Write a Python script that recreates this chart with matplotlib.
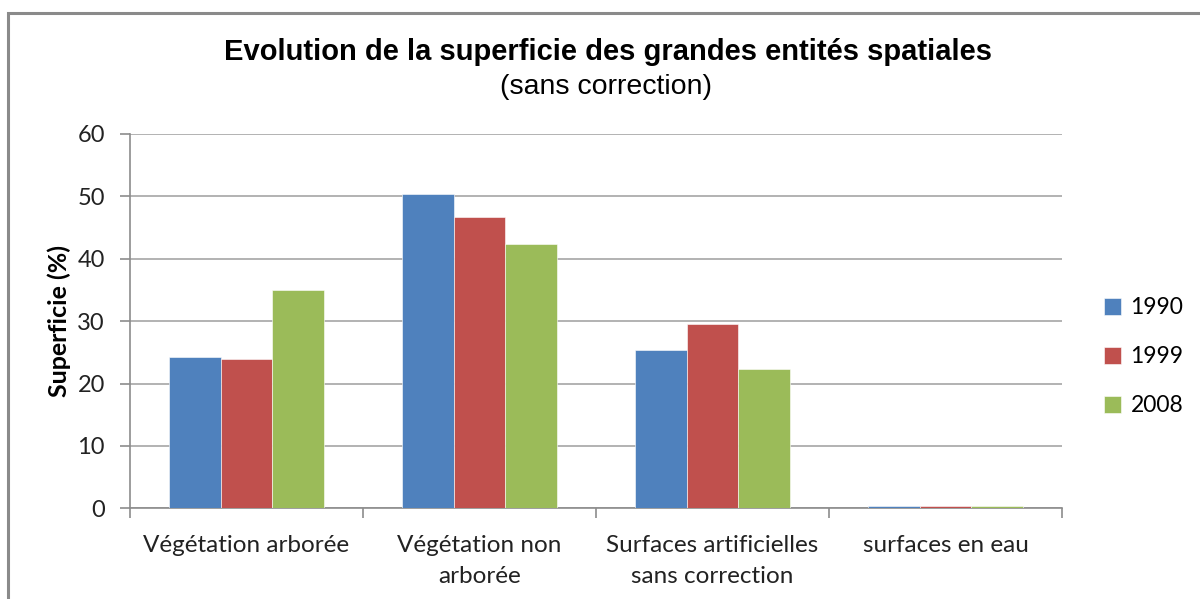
import matplotlib
matplotlib.use("Agg")
import matplotlib.pyplot as plt
from matplotlib.patches import Rectangle
import numpy as np

categories = ["Végétation arborée", "Végétation non\narborée",
              "Surfaces artificielles\nsans correction", "surfaces en eau"]
years = ["1990", "1999", "2008"]
values_1990 = [24.3, 50.4, 25.3, 0.3]
values_1999 = [23.9, 46.7, 29.5, 0.3]
values_2008 = [35.0, 42.4, 22.4, 0.3]
colors = ["#4F81BD", "#C0504D", "#9BBB59"]
y_ticks = [0, 10, 20, 30, 40, 50, 60]

series = [values_1990, values_1999, values_2008]

fig = plt.figure(figsize=(12, 5.99), dpi=100)
fig.patch.set_facecolor("white")

# outer chart frame (runs off the right and bottom edges)
fig.add_artist(Rectangle((8 / 1200, -0.05), 1.2, 1 - 13 / 599 + 0.05,
                         transform=fig.transFigure, fill=False,
                         edgecolor="#8a8a8a", linewidth=2.2))

ax = fig.add_axes([130 / 1200, 1 - 508.3 / 599, (1062 - 130) / 1200, (508.3 - 134) / 599])

n = len(categories)
x = np.arange(n)
bw = 1 / 4.5
for i, (vals, c, lab) in enumerate(zip(series, colors, years)):
    ax.bar(x + (i - 1) * bw, vals, width=bw, color=c, label=lab,
           edgecolor="white", linewidth=0.4, zorder=3)

ax.set_xlim(-0.5, n - 0.5)
ax.set_ylim(0, 60)
ax.set_yticks(y_ticks)
ax.set_yticklabels([str(v) for v in y_ticks], fontsize=17, family="Lato", color="#222222")
ax.yaxis.grid(True, color="#a6a6a6", linewidth=1.2, zorder=0)
ax.set_axisbelow(True)

ax.set_xticks(x)
ax.set_xticklabels(categories, fontsize=17.5, family="Lato", color="#222222", linespacing=1.62)
ax.set_xticks(np.arange(n + 1) - 0.5, minor=True)
ax.tick_params(axis="x", which="major", length=0, pad=19)
ax.tick_params(axis="x", which="minor", length=7, color="#8c8c8c", width=1.2, direction="out")
ax.tick_params(axis="y", length=7, color="#8c8c8c", width=1.2, direction="out", pad=11)

for side in ["top", "right"]:
    ax.spines[side].set_visible(False)
for side in ["left", "bottom"]:
    ax.spines[side].set_color("#8c8c8c")
    ax.spines[side].set_linewidth(1.2)

ax.set_ylabel("Superficie (%)", fontsize=18, family="Lato", fontweight="bold")
ax.yaxis.set_label_coords(-0.063, 0.5)

fig.text(608 / 1200, 1 - 52 / 599, "Evolution de la superficie des grandes entités spatiales",
         ha="center", va="center", fontsize=21, fontweight="bold", family="Liberation Sans")
fig.text(606 / 1200, 1 - 87 / 599, "(sans correction)",
         ha="center", va="center", fontsize=20.5, family="Liberation Sans")

leg = ax.legend(loc="center left", bbox_to_anchor=(1.023, 0.405), frameon=False,
                prop={"family": "Lato", "size": 16.5}, handlelength=0.75, handleheight=0.75,
                handletextpad=0.4, labelspacing=1.22)

fig.savefig("out.png", dpi=100, facecolor="white")
